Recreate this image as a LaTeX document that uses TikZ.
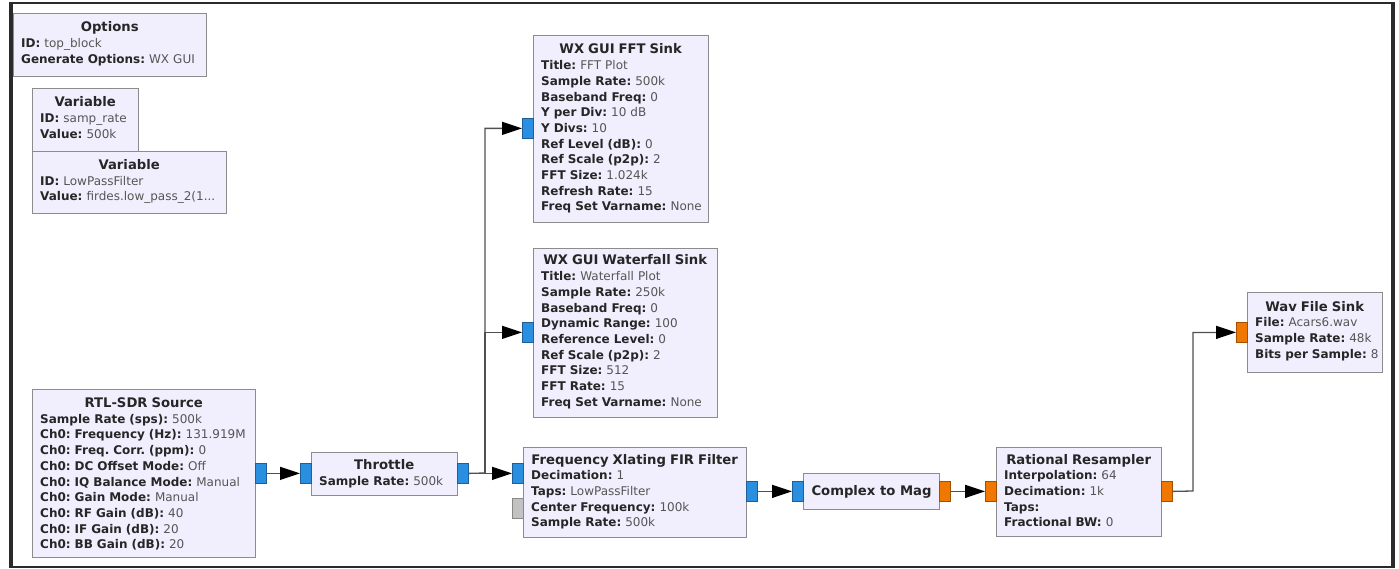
\documentclass[tikz,border=0pt]{standalone}
\usepackage{fontspec}
\setmainfont{DejaVu Sans}
\usetikzlibrary{arrows.meta}
\definecolor{blkfill}{HTML}{F1EFFD}
\definecolor{blkdraw}{HTML}{8C8C8C}
\definecolor{bportf}{HTML}{2A8FE0}
\definecolor{bportd}{HTML}{1F5F99}
\definecolor{oportf}{HTML}{F07800}
\definecolor{oportd}{HTML}{A05000}
\definecolor{gportf}{HTML}{C2C2C2}
\definecolor{gportd}{HTML}{888888}
\definecolor{lbl}{HTML}{262626}
\definecolor{val}{HTML}{555555}
\definecolor{wire}{HTML}{505050}
\definecolor{frame}{HTML}{2A2A2A}
\newcommand\blkkv[2]{\mbox{{\color{lbl}\bfseries #1:} {\color{val}#2}}}
\newcommand\blktitle[1]{\makebox[\linewidth][c]{\fontsize{13.2}{15.7}\selectfont\color{lbl}\bfseries #1}}
\begin{document}
\frenchspacing
\begin{tikzpicture}[x=1pt,y=-1pt,
  blk/.style={draw=blkdraw, fill=blkfill, line width=1pt, inner sep=0pt, anchor=north west},
  txt/.style={anchor=base west, inner sep=0pt, align=left, font=\fontsize{12}{15.7}\selectfont\frenchspacing},
  port/.style={line width=0.8pt, inner sep=0pt, anchor=north west, minimum width=11pt, minimum height=20pt},
  bport/.style={port, draw=bportd, fill=bportf},
  oport/.style={port, draw=oportd, fill=oportf},
  gport/.style={port, draw=gportd, fill=gportf},
  conn/.style={draw=wire, line width=1.3pt, -{Triangle[length=20pt,width=13pt,color=black]}}
]
\useasboundingbox (0,0) rectangle (1399,569);
\draw[line width=2pt, draw=frame] (10.5,3) rectangle (1393,567);
\draw[line width=4pt, draw=frame] (10.5,2) -- (10.5,568);
\draw[line width=4pt, draw=frame] (1393,2) -- (1393,568);

% ---- blocks ----
\node[blk, minimum width=193pt, minimum height=63pt] (opts) at (13,13) {};
\node[txt, text width=177pt] (opts-t) at ([shift={(8,19)}]opts.north west)
  {\blktitle{Options}\\ \blkkv{ID}{top\_block}\\ \blkkv{Generate Options}{WX GUI}};

\node[blk, minimum width=106pt, minimum height=63pt] (var1) at (32,88) {};
\node[txt, text width=90pt] (var1-t) at ([shift={(8,19)}]var1.north west)
  {\blktitle{Variable}\\ \blkkv{ID}{samp\_rate}\\ \blkkv{Value}{500k}};

\node[blk, minimum width=194pt, minimum height=62pt] (var2) at (32,151) {};
\node[txt, text width=178pt] (var2-t) at ([shift={(8,18.5)}]var2.north west)
  {\blktitle{Variable}\\ \blkkv{ID}{LowPassFilter}\\ \blkkv{Value}{firdes.low\_pass\_2(1...}};

\node[blk, minimum width=223pt, minimum height=168pt] (rtl) at (32,389) {};
\node[txt, text width=207pt] (rtl-t) at ([shift={(8,18.5)}]rtl.north west)
  {\blktitle{RTL-SDR Source}\\
   \blkkv{Sample Rate (sps)}{500k}\\
   \blkkv{Ch0: Frequency (Hz)}{131.919M}\\
   \blkkv{Ch0: Freq. Corr. (ppm)}{0}\\
   \blkkv{Ch0: DC Offset Mode}{Off}\\
   \blkkv{Ch0: IQ Balance Mode}{Manual}\\
   \blkkv{Ch0: Gain Mode}{Manual}\\
   \blkkv{Ch0: RF Gain (dB)}{40}\\
   \blkkv{Ch0: IF Gain (dB)}{20}\\
   \blkkv{Ch0: BB Gain (dB)}{20}};

\node[blk, minimum width=146pt, minimum height=43pt] (thr) at (311,452) {};
\node[txt, text width=130pt] (thr-t) at ([shift={(8,17.5)}]thr.north west)
  {\blktitle{Throttle}\\ \blkkv{Sample Rate}{500k}};

\node[blk, minimum width=175pt, minimum height=187pt] (fft) at (533,35) {};
\node[txt, text width=159pt] (fft-t) at ([shift={(8,19)}]fft.north west)
  {\blktitle{WX GUI FFT Sink}\\
   \blkkv{Title}{FFT Plot}\\
   \blkkv{Sample Rate}{500k}\\
   \blkkv{Baseband Freq}{0}\\
   \blkkv{Y per Div}{10 dB}\\
   \blkkv{Y Divs}{10}\\
   \blkkv{Ref Level (dB)}{0}\\
   \blkkv{Ref Scale (p2p)}{2}\\
   \blkkv{FFT Size}{1.024k}\\
   \blkkv{Refresh Rate}{15}\\
   \blkkv{Freq Set Varname}{None}};

\node[blk, minimum width=184pt, minimum height=169pt] (wf) at (533,248) {};
\node[txt, text width=168pt] (wf-t) at ([shift={(8,17)}]wf.north west)
  {\blktitle{WX GUI Waterfall Sink}\\
   \blkkv{Title}{Waterfall Plot}\\
   \blkkv{Sample Rate}{250k}\\
   \blkkv{Baseband Freq}{0}\\
   \blkkv{Dynamic Range}{100}\\
   \blkkv{Reference Level}{0}\\
   \blkkv{Ref Scale (p2p)}{2}\\
   \blkkv{FFT Size}{512}\\
   \blkkv{FFT Rate}{15}\\
   \blkkv{Freq Set Varname}{None}};

\node[blk, minimum width=223pt, minimum height=90pt] (fir) at (523,447) {};
\node[txt, text width=207pt] (fir-t) at ([shift={(8,17)}]fir.north west)
  {\blktitle{Frequency Xlating FIR Filter}\\
   \blkkv{Decimation}{1}\\
   \blkkv{Taps}{LowPassFilter}\\
   \blkkv{Center Frequency}{100k}\\
   \blkkv{Sample Rate}{500k}};

\node[blk, minimum width=136pt, minimum height=36pt] (c2m) at (803,473) {};
\node[inner sep=0pt, font=\fontsize{13.2}{15.7}\selectfont\bfseries, text=lbl] (c2m-t) at (c2m.center) {Complex to Mag};

\node[blk, minimum width=165pt, minimum height=89pt] (rr) at (996,447) {};
\node[txt, text width=149pt] (rr-t) at ([shift={(8,17)}]rr.north west)
  {\blktitle{Rational Resampler}\\
   \blkkv{Interpolation}{64}\\
   \blkkv{Decimation}{1k}\\
   \blkkv{Taps}{}\\
   \blkkv{Fractional BW}{0}};

\node[blk, minimum width=135pt, minimum height=80pt] (wav) at (1247,292) {};
\node[txt, text width=119pt] (wav-t) at ([shift={(8,19)}]wav.north west)
  {\blktitle{Wav File Sink}\\
   \blkkv{File}{Acars6.wav}\\
   \blkkv{Sample Rate}{48k}\\
   \blkkv{Bits per Sample}{8}};

% ---- ports ----
\node[bport] (rtl-o) at (255,463) {};
\node[bport] (thr-i) at (300,463) {};
\node[bport] (thr-o) at (457,463) {};
\node[bport] (fir-i) at (512,463) {};
\node[gport] (fir-g) at (512,498) {};
\node[bport] (fir-o) at (746,481) {};
\node[bport] (c2m-i) at (792,481) {};
\node[oport] (c2m-o) at (939,481) {};
\node[oport] (rr-i) at (985,481) {};
\node[oport] (rr-o) at (1161,481) {};
\node[bport] (fft-i) at (522,118) {};
\node[bport] (wf-i) at (522,322) {};
\node[oport] (wav-i) at (1236,322) {};

% ---- connections ----
\coordinate (jn) at (485,473);
\coordinate (jw) at (1193,491);
\draw[conn] (rtl-o.east) -- (thr-i.west);
\draw[conn] (thr-o.east) -- (fir-i.west);
\draw[conn] (thr-o.east) -- (jn) |- (fft-i.west);
\draw[conn] (jn) |- (wf-i.west);
\draw[conn] (fir-o.east) -- (c2m-i.west);
\draw[conn] (c2m-o.east) -- (rr-i.west);
\draw[conn] (rr-o.east) -- (jw) |- (wav-i.west);
\end{tikzpicture}
\end{document}
